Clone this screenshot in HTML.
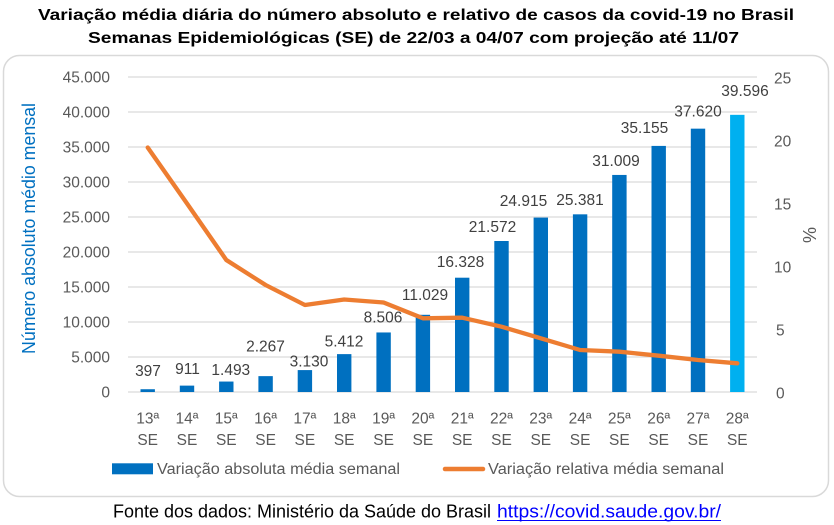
<!DOCTYPE html>
<html>
<head>
<meta charset="utf-8">
<style>
  html, body { margin: 0; padding: 0; background: #fff; }
  svg { display: block; }
  text { font-family: "Liberation Sans", "DejaVu Sans", sans-serif; }
</style>
</head>
<body>
<svg width="834" height="525" viewBox="0 0 834 525" xmlns="http://www.w3.org/2000/svg">
  <rect x="0" y="0" width="834" height="525" fill="#ffffff"/>

  <!-- Title -->
  <text x="38" y="20" font-size="16" font-weight="bold" fill="#000" textLength="756" lengthAdjust="spacingAndGlyphs">Variação média diária do número absoluto e relativo de casos da covid-19 no Brasil</text>
  <text x="88" y="43" font-size="16" font-weight="bold" fill="#000" textLength="651" lengthAdjust="spacingAndGlyphs">Semanas Epidemiológicas (SE) de 22/03 a 04/07 com projeção até 11/07</text>

  <!-- Chart box -->
  <rect x="3.5" y="55.5" width="825" height="441" rx="16" ry="16" fill="#fff" stroke="#D9D9D9" stroke-width="1.5"/>

  <!-- Gridlines -->
  <g stroke="#D9D9D9" stroke-width="1.3">
    <line x1="128" y1="77" x2="757" y2="77"/>
    <line x1="128" y1="112" x2="757" y2="112"/>
    <line x1="128" y1="147" x2="757" y2="147"/>
    <line x1="128" y1="182" x2="757" y2="182"/>
    <line x1="128" y1="217" x2="757" y2="217"/>
    <line x1="128" y1="252" x2="757" y2="252"/>
    <line x1="128" y1="287" x2="757" y2="287"/>
    <line x1="128" y1="322" x2="757" y2="322"/>
    <line x1="128" y1="357" x2="757" y2="357"/>
    <line x1="128" y1="392" x2="757" y2="392"/>
  </g>

  <!-- Left axis labels -->
  <g font-size="15.5" fill="#595959" text-anchor="end">
    <text x="110" y="82.5">45.000</text>
    <text x="110" y="117.5">40.000</text>
    <text x="110" y="152.5">35.000</text>
    <text x="110" y="187.5">30.000</text>
    <text x="110" y="222.5">25.000</text>
    <text x="110" y="257.5">20.000</text>
    <text x="110" y="292.5">15.000</text>
    <text x="110" y="327.5">10.000</text>
    <text x="110" y="362.5">5.000</text>
    <text x="110" y="397.5">0</text>
  </g>

  <!-- Right axis labels -->
  <g font-size="15.5" fill="#595959" text-anchor="start">
    <text x="774" y="83.5">25</text>
    <text x="774" y="146.5">20</text>
    <text x="774" y="209.5">15</text>
    <text x="774" y="272.5">10</text>
    <text x="776" y="335.5">5</text>
    <text x="776" y="398.5">0</text>
  </g>

  <!-- Axis titles -->
  <text transform="translate(35,228.5) rotate(-90)" font-size="18" fill="#0070C0" text-anchor="middle" textLength="251" lengthAdjust="spacingAndGlyphs">Número absoluto médio mensal</text>
  <text transform="translate(816,235) rotate(-90)" font-size="18" fill="#595959" text-anchor="middle">%</text>

  <!-- Bars -->
  <g fill="#0070C0">
    <rect x="140.5" y="389.22" width="14.4" height="2.78"/>
    <rect x="179.8" y="385.62" width="14.4" height="6.38"/>
    <rect x="219.1" y="381.55" width="14.4" height="10.45"/>
    <rect x="258.4" y="376.13" width="14.4" height="15.87"/>
    <rect x="297.7" y="370.09" width="14.4" height="21.91"/>
    <rect x="337.0" y="354.12" width="14.4" height="37.88"/>
    <rect x="376.4" y="332.46" width="14.4" height="59.54"/>
    <rect x="415.7" y="314.80" width="14.4" height="77.20"/>
    <rect x="455.0" y="277.70" width="14.4" height="114.30"/>
    <rect x="494.3" y="241.00" width="14.4" height="151.00"/>
    <rect x="533.6" y="217.59" width="14.4" height="174.41"/>
    <rect x="572.9" y="214.33" width="14.4" height="177.67"/>
    <rect x="612.2" y="174.94" width="14.4" height="217.06"/>
    <rect x="651.5" y="145.91" width="14.4" height="246.09"/>
    <rect x="690.8" y="128.66" width="14.4" height="263.34"/>
  </g>
  <rect x="730.1" y="114.83" width="14.4" height="277.17" fill="#00B0F0"/>

  <!-- Line -->
  <polyline fill="none" stroke="#ED7D31" stroke-width="4.3" stroke-linejoin="round" stroke-linecap="round"
    points="147.7,147.5 187,203.5 226.3,260 265.6,285 304.9,305 344.2,299.5 383.6,302.5 422.9,318.3 462.2,317.7 501.5,326.7 540.8,338.3 580.1,350 619.4,351.7 658.7,355.7 698,360 737.3,363.3"/>

  <!-- Data labels -->
  <g font-size="15.5" fill="#404040" text-anchor="middle">
    <text x="148" y="376">397</text>
    <text x="187.5" y="374">911</text>
    <text x="230.8" y="375">1.493</text>
    <text x="265.5" y="351.5">2.267</text>
    <text x="309" y="366.5">3.130</text>
    <text x="344" y="346.5">5.412</text>
    <text x="383" y="322.5">8.506</text>
    <text x="425" y="300">11.029</text>
    <text x="460.5" y="267">16.328</text>
    <text x="492.5" y="232">21.572</text>
    <text x="523.5" y="206">24.915</text>
    <text x="580" y="205">25.381</text>
    <text x="616" y="166">31.009</text>
    <text x="644.5" y="133">35.155</text>
    <text x="698" y="116.5">37.620</text>
    <text x="745" y="96">39.596</text>
  </g>

  <!-- X axis labels -->
  <g font-size="15.5" fill="#595959" text-anchor="middle">
    <text x="147.7" y="423.3">13ª</text><text x="147.7" y="445">SE</text>
    <text x="187" y="423.3">14ª</text><text x="187" y="445">SE</text>
    <text x="226.3" y="423.3">15ª</text><text x="226.3" y="445">SE</text>
    <text x="265.6" y="423.3">16ª</text><text x="265.6" y="445">SE</text>
    <text x="304.9" y="423.3">17ª</text><text x="304.9" y="445">SE</text>
    <text x="344.2" y="423.3">18ª</text><text x="344.2" y="445">SE</text>
    <text x="383.6" y="423.3">19ª</text><text x="383.6" y="445">SE</text>
    <text x="422.9" y="423.3">20ª</text><text x="422.9" y="445">SE</text>
    <text x="462.2" y="423.3">21ª</text><text x="462.2" y="445">SE</text>
    <text x="501.5" y="423.3">22ª</text><text x="501.5" y="445">SE</text>
    <text x="540.8" y="423.3">23ª</text><text x="540.8" y="445">SE</text>
    <text x="580.1" y="423.3">24ª</text><text x="580.1" y="445">SE</text>
    <text x="619.4" y="423.3">25ª</text><text x="619.4" y="445">SE</text>
    <text x="658.7" y="423.3">26ª</text><text x="658.7" y="445">SE</text>
    <text x="698" y="423.3">27ª</text><text x="698" y="445">SE</text>
    <text x="737.3" y="423.3">28ª</text><text x="737.3" y="445">SE</text>
  </g>

  <!-- Legend -->
  <rect x="112" y="463.3" width="41" height="11" fill="#0070C0"/>
  <text x="157" y="474" font-size="15.5" fill="#595959" textLength="243" lengthAdjust="spacingAndGlyphs">Variação absoluta média semanal</text>
  <line x1="445" y1="469" x2="483" y2="469" stroke="#ED7D31" stroke-width="4.5" stroke-linecap="round"/>
  <text x="488" y="474" font-size="15.5" fill="#595959" textLength="236" lengthAdjust="spacingAndGlyphs">Variação relativa média semanal</text>

  <!-- Footer -->
  <text x="113" y="517.5" font-size="18" fill="#000" textLength="378" lengthAdjust="spacingAndGlyphs">Fonte dos dados: Ministério da Saúde do Brasil</text>
  <text x="497" y="517.5" font-size="18" fill="#0000FF" textLength="224" lengthAdjust="spacingAndGlyphs">https://covid.saude.gov.br/</text>
  <line x1="497" y1="520.5" x2="721" y2="520.5" stroke="#0000FF" stroke-width="1"/>
</svg>
</body>
</html>
